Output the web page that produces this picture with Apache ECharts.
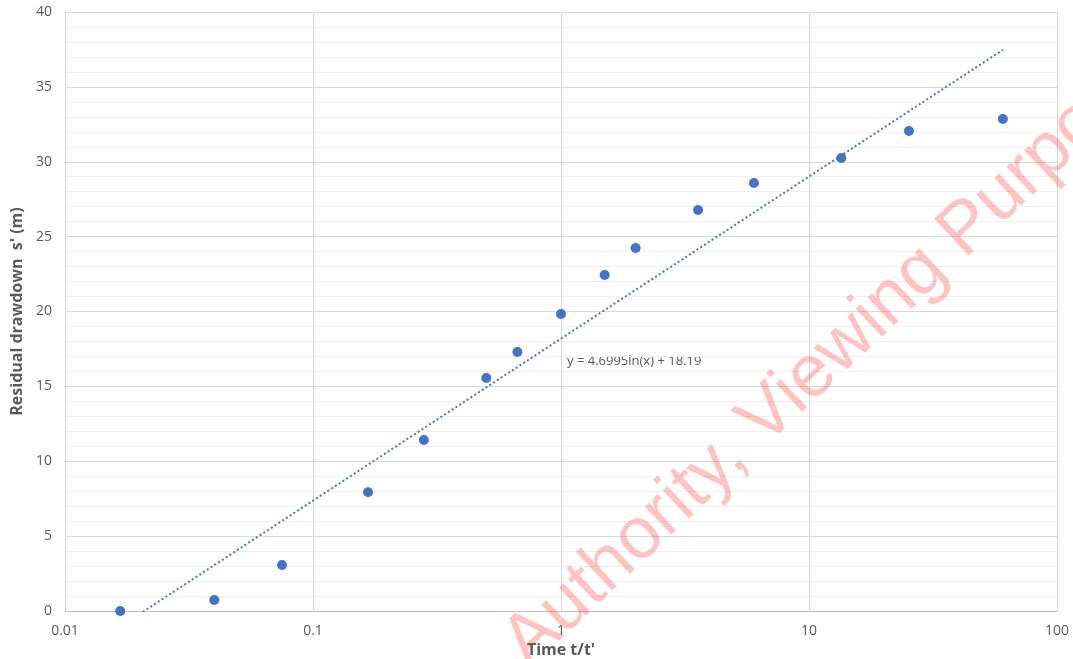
<!DOCTYPE html>
<html>
<head>
<meta charset="utf-8">
<script src="https://cdn.jsdelivr.net/npm/echarts@6/dist/echarts.min.js"></script>
<style>
  html, body { margin: 0; padding: 0; background: #fff; }
  #chart { width: 1073px; height: 659px; }
</style>
</head>
<body>
<div id="chart"></div>
<script>
// Recovery test: time ratio t/t' against residual drawdown s'
const timeRatio = [0.0167, 0.04, 0.075, 0.1667, 0.28, 0.5, 0.667, 1.0, 1.5, 2.0, 3.57, 6.0, 13.5, 25.3, 60.5];
const residualDrawdown = [0.0, 0.73, 3.07, 7.93, 11.42, 15.56, 17.3, 19.83, 22.44, 24.24, 26.78, 28.58, 30.25, 32.05, 32.85];

// Logarithmic trendline y = a ln(x) + b
const trendCoef = [4.6995, 18.19];
const trendLabel = 'y = 4.6995ln(x) + 18.19';

const xTickLabels = ['0.01', '0.1', '1', '10', '100'];
const yTicks = [0, 5, 10, 15, 20, 25, 30, 35, 40];

const font = '"Open Sans", "DejaVu Sans", sans-serif';
const grey = '#595959';
const blue = '#4472C4';

// Trendline spans the data's x range; a log fit is straight on a log x axis
const xLo = Math.min(...timeRatio);
const xHi = Math.max(...timeRatio);
const trendPts = [xLo, xHi].map(x => [x, trendCoef[0] * Math.log(x) + trendCoef[1]]);

const chart = echarts.init(document.getElementById('chart'), null, { renderer: 'canvas' });

chart.setOption({
  animation: false,
  backgroundColor: '#ffffff',
  grid: { left: 65, right: 16, top: 12, bottom: 48, containLabel: false, outerBoundsMode: 'none' },
  xAxis: {
    type: 'log',
    logBase: 10,
    min: 0.01,
    max: 100,
    name: 'Time t/t\'',
    nameLocation: 'middle',
    nameGap: 31,
    nameTextStyle: { fontFamily: font, fontSize: 16, fontWeight: 'bold', color: grey },
    axisLine: { show: true, lineStyle: { color: '#bfbfbf', width: 1 } },
    axisTick: { show: false },
    axisLabel: {
      fontFamily: font, fontSize: 14, color: grey, margin: 13,
      formatter: v => {
        const i = Math.round(Math.log10(v)) + 2;
        return xTickLabels[i] !== undefined ? xTickLabels[i] : '';
      }
    },
    splitLine: { show: true, lineStyle: { color: '#d9d9d9', width: 1 } },
    minorTick: { show: false },
    minorSplitLine: { show: false }
  },
  yAxis: {
    type: 'value',
    min: yTicks[0],
    max: yTicks[yTicks.length - 1],
    interval: 5,
    name: 'Residual drawdown  s\' (m)',
    nameLocation: 'middle',
    nameGap: 40,
    nameTextStyle: { fontFamily: font, fontSize: 16, fontWeight: 'bold', color: grey },
    axisLine: { show: true, lineStyle: { color: '#d9d9d9', width: 1 } },
    axisTick: { show: false },
    axisLabel: { fontFamily: font, fontSize: 14, color: grey, margin: 13 },
    splitLine: { show: true, lineStyle: { color: '#d9d9d9', width: 1 } },
    minorTick: { show: false, splitNumber: 5 },
    minorSplitLine: { show: true, lineStyle: { color: '#f0f0f0', width: 1 } }
  },
  series: [
    {
      name: 'trend',
      type: 'line',
      data: trendPts,
      showSymbol: false,
      clip: true,
      lineStyle: { color: blue, width: 2, type: [2, 2.5] },
      silent: true,
      z: 2
    },
    {
      name: 's\'',
      type: 'scatter',
      data: timeRatio.map((x, i) => [x, residualDrawdown[i]]),
      symbol: 'circle',
      symbolSize: 10,
      itemStyle: { color: blue, opacity: 1 },
      z: 3
    }
  ],
  graphic: [
    {
      type: 'text',
      left: 567,
      top: 355,
      style: { text: trendLabel, fontFamily: font, fontSize: 13, fill: grey }
    },
    {
      type: 'text',
      x: 540,
      y: 681,
      rotation: 0.755,
      z: 100,
      silent: true,
      style: {
        text: 'Authority, Viewing Purposes',
        fontFamily: '"Liberation Sans", Arial, sans-serif',
        fontSize: 73,
        fill: 'rgba(255, 40, 40, 0.28)',
        align: 'left',
        verticalAlign: 'bottom'
      }
    }
  ]
});
</script>
</body>
</html>
